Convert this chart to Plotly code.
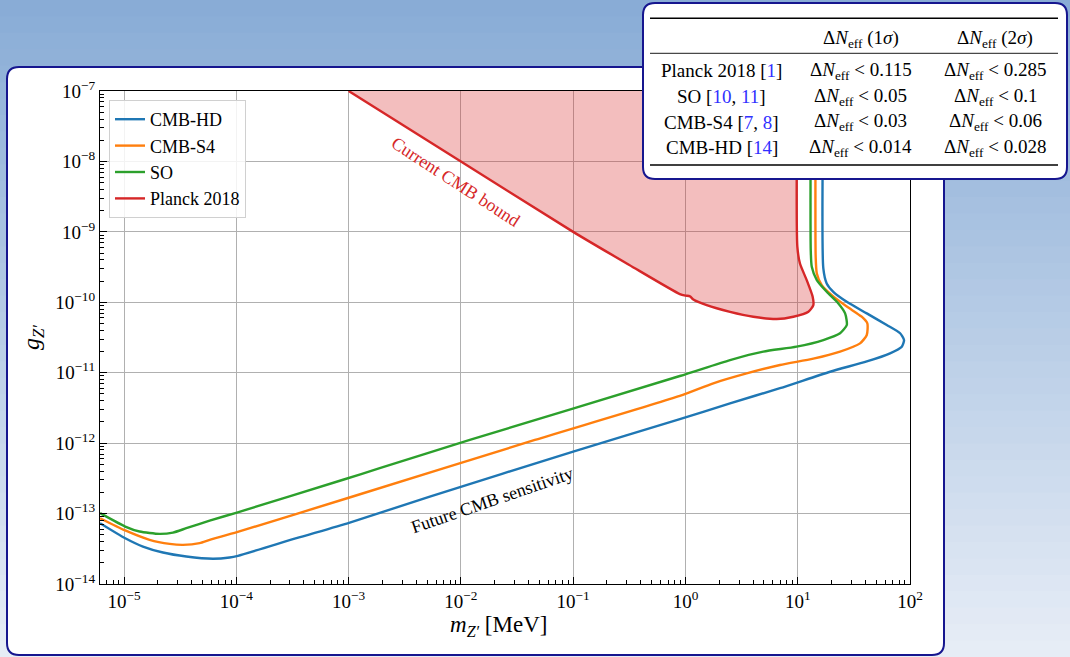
import numpy as np
import plotly.graph_objects as go

# ---------------- data (log10 values) ----------------
hd_log_m = [-5.214, -4.99, -4.832, -4.654, -4.446, -4.209, -4.06, -3.986, -3.465, -2.99, -2.277,
            -1.0, -0.05, 0.397, 0.842, 1.288, 1.615, 1.822, 1.927, 1.947, 1.912, 1.793, 1.615,
            1.437, 1.317, 1.258, 1.228, 1.228]
hd_log_g = [-13.136, -13.35, -13.468, -13.553, -13.61, -13.642, -13.624, -13.6, -13.35, -13.128, -12.759,
            -12.12, -11.66, -11.434, -11.22, -10.986, -10.84, -10.725, -10.63, -10.536, -10.44, -10.323, -10.158,
            -9.993, -9.851, -9.732, -9.52, -7.0]

s4_log_m = [-5.214, -4.99, -4.773, -4.594, -4.476, -4.327, -4.238, -3.995, -2.985, -1.341, -0.05,
            0.248, 0.545, 0.842, 1.139, 1.377, 1.555, 1.615, 1.62, 1.57, 1.437, 1.303, 1.214, 1.17,
            1.16, 1.16]
s4_log_g = [-13.066, -13.24, -13.373, -13.43, -13.444, -13.42, -13.373, -13.264, -12.768, -11.955, -11.33,
            -11.15, -11.01, -10.89, -10.8, -10.70, -10.583, -10.465, -10.30, -10.205, -10.06, -9.898, -9.756, -9.59,
            -9.355, -7.0]

so_log_m = [-5.214, -4.99, -4.862, -4.684, -4.565, -4.446, -4.238, -3.995, -3.05, -2.723, -1.921, -0.05,
            0.397, 0.693, 0.99, 1.228, 1.377, 1.437, 1.422, 1.362, 1.258, 1.17, 1.125, 1.116, 1.116]
so_log_g = [-12.994, -13.184, -13.255, -13.288, -13.27, -13.208, -13.1, -12.986, -12.52, -12.356, -11.955, -11.047,
            -10.82, -10.70, -10.63, -10.536, -10.44, -10.323, -10.158, -10.016, -9.851, -9.685, -9.496, -9.26, -7.0]

planck_log_m = [-3.0, -2.0, -1.0, -0.5, -0.05, 0.0, 0.04, 0.07, 0.189, 0.397, 0.604, 0.813, 0.961,
                1.095, 1.139, 1.133, 1.08, 1.02, 0.9965, 0.995]
planck_log_g = [-7.0, -8.0, -9.0, -9.47, -9.883, -9.905, -9.915, -9.96, -10.04, -10.135, -10.205, -10.238, -10.205,
                -10.135, -10.04, -9.92, -9.685, -9.45, -9.21, -7.0]

series_names = ["CMB-HD", "CMB-S4", "SO", "Planck 2018"]
series_colors = ["#1f77b4", "#ff7f0e", "#2ca02c", "#d62728"]

x_tick_exps = [-5, -4, -3, -2, -1, 0, 1, 2]
y_tick_exps = [-14, -13, -12, -11, -10, -9, -8, -7]

table_header = ["", "Δ<i>N</i><sub>eff</sub> (1<i>σ</i>)", "Δ<i>N</i><sub>eff</sub> (2<i>σ</i>)"]
table_rows = [
    ["Planck 2018 [<span style='color:#3030ff'>1</span>]", "0.115", "0.285"],
    ["SO [<span style='color:#3030ff'>10</span>, <span style='color:#3030ff'>11</span>]", "0.05", "0.1"],
    ["CMB-S4 [<span style='color:#3030ff'>7</span>, <span style='color:#3030ff'>8</span>]", "0.03", "0.06"],
    ["CMB-HD [<span style='color:#3030ff'>14</span>]", "0.014", "0.028"],
]

# ---------------- layout geometry ----------------
W, H = 1070, 657
L, R, T, B = 100, 160, 91, 73
PW, PH = W - L - R, H - T - B
FONT = "Liberation Serif"
NAVY = "#16168f"


def px(x):
    return (x - L) / PW


def py(y):
    return (H - B - y) / PH


def rounded_path(x0, y0, x1, y1, r):
    rx, ry = r / PW, r / PH
    X0, X1 = px(x0), px(x1)
    Y0, Y1 = py(y0), py(y1)  # Y0 top (larger), Y1 bottom
    return (f"M {X0+rx},{Y0} L {X1-rx},{Y0} Q {X1},{Y0} {X1},{Y0-ry} "
            f"L {X1},{Y1+ry} Q {X1},{Y1} {X1-rx},{Y1} "
            f"L {X0+rx},{Y1} Q {X0},{Y1} {X0},{Y1+ry} "
            f"L {X0},{Y0-ry} Q {X0},{Y0} {X0+rx},{Y0} Z")


fig = go.Figure()

# Planck fill
pm = 10 ** np.array(planck_log_m)
pg = 10 ** np.array(planck_log_g)
fig.add_trace(go.Scatter(x=pm, y=pg, mode="lines", fill="toself",
                         fillcolor="rgba(214,39,40,0.3)", line=dict(width=0, shape="spline", smoothing=0.6),
                         showlegend=False, hoverinfo="skip"))

curves = [(hd_log_m, hd_log_g), (s4_log_m, s4_log_g), (so_log_m, so_log_g), (planck_log_m, planck_log_g)]
for i, ((lm, lg), name, col) in enumerate(zip(curves, series_names, series_colors)):
    fig.add_trace(go.Scatter(x=10 ** np.array(lm), y=10 ** np.array(lg), mode="lines", name=name,
                             legendgroup=f"g{i}",
                             line=dict(color=col, width=2.4, shape="spline", smoothing=0.6)))

shapes = []
# background gradient bands
top_c = np.array([136, 172, 214])
bot_c = np.array([232, 238, 247])
NB = 40
for k in range(NB):
    y0 = H * k / NB
    y1 = H * (k + 1) / NB + 1
    c = top_c + (bot_c - top_c) * (k + 0.5) / NB
    shapes.append(dict(type="rect", xref="paper", yref="paper", x0=px(-2), x1=px(W + 2),
                       y0=py(y0), y1=py(min(y1, H + 2)), fillcolor=f"rgb({int(c[0])},{int(c[1])},{int(c[2])})",
                       line=dict(width=0), layer="below"))
# white panel
shapes.append(dict(type="path", xref="paper", yref="paper", path=rounded_path(7, 67, 944, 655, 12),
                   fillcolor="white", line=dict(color=NAVY, width=2), layer="below"))
# table box
shapes.append(dict(type="path", xref="paper", yref="paper", path=rounded_path(643, 3, 1067, 179, 12),
                   fillcolor="white", line=dict(color=NAVY, width=2), layer="above"))
for yy, wdt in [(18.3, 1.4), (53.3, 0.9), (165, 1.4)]:
    shapes.append(dict(type="line", xref="paper", yref="paper", x0=px(650), x1=px(1058),
                       y0=py(yy), y1=py(yy), line=dict(color="black", width=wdt), layer="above"))

annotations = []
col_x = [721.7, 860.7, 995.0]
for j, txt in enumerate(table_header):
    if txt:
        annotations.append(dict(xref="paper", yref="paper", x=px(col_x[j]), y=py(39), text=txt,
                                showarrow=False, xanchor="center", yanchor="middle",
                                font=dict(family=FONT, size=19, color="black")))
row_y = [71, 96.7, 122.3, 147.7]
for r_i, row in enumerate(table_rows):
    for j, txt in enumerate(row):
        t = txt if j == 0 else f"Δ<i>N</i><sub>eff</sub> &lt; {txt}"
        annotations.append(dict(xref="paper", yref="paper", x=px(col_x[j]), y=py(row_y[r_i]), text=t,
                                showarrow=False, xanchor="center", yanchor="middle",
                                font=dict(family=FONT, size=19, color="black")))

# in-plot labels
annotations.append(dict(x=-2.045, y=-8.295, xref="x", yref="y", text="Current CMB bound", showarrow=False,
                        textangle=33, font=dict(family=FONT, size=18, color="#d62728")))
annotations.append(dict(x=-1.72, y=-12.806, xref="x", yref="y", text="Future CMB sensitivity", showarrow=False,
                        textangle=-19, font=dict(family=FONT, size=18, color="black")))
# axis titles
annotations.append(dict(xref="paper", yref="paper", x=px(498), y=py(626), text="<i>m</i><sub><i>Z′</i></sub> [MeV]",
                        showarrow=False, xanchor="center", yanchor="middle",
                        font=dict(family=FONT, size=23, color="black")))
annotations.append(dict(xref="paper", yref="paper", x=px(33), y=py(338), text="<i>g</i><sub><i>Z′</i></sub>",
                        showarrow=False, xanchor="center", yanchor="middle", textangle=-90,
                        font=dict(family=FONT, size=24, color="black")))


def sup_label(e):
    return "10<sup>" + (str(e).replace("-", "−")) + "</sup>"


x_minor = [np.log10(d * 10.0 ** e) for e in range(-6, 2) for d in range(2, 10)]
x_minor = [10 ** v for v in x_minor if -5.2147 < v < 2]
y_minor = [d * 10.0 ** e for e in range(-14, -7) for d in range(2, 10)]

axis_common = dict(showline=True, linecolor="black", linewidth=1.3, mirror=True, ticks="inside", ticklen=7,
                   tickwidth=1.1, tickcolor="black", showgrid=True, gridcolor="#b0b0b0", gridwidth=1,
                   zeroline=False, tickfont=dict(family=FONT, size=19, color="black"))

fig.update_xaxes(type="log", range=[np.log10(6.1e-6), 2.0],
                 tickvals=[10.0 ** e for e in x_tick_exps], ticktext=[sup_label(e) for e in x_tick_exps],
                 minor=dict(tickvals=x_minor, ticks="inside", ticklen=3.5, tickcolor="black", tickwidth=1,
                            showgrid=False),
                 **axis_common)
fig.update_yaxes(type="log", range=[-14, -7],
                 tickvals=[10.0 ** e for e in y_tick_exps], ticktext=[sup_label(e) for e in y_tick_exps],
                 minor=dict(tickvals=y_minor, ticks="inside", ticklen=3.5, tickcolor="black", tickwidth=1,
                            showgrid=False),
                 **axis_common)

fig.update_layout(
    width=W, height=H, autosize=False,
    margin=dict(l=L, r=R, t=T, b=B, pad=0),
    paper_bgcolor="rgb(180,200,230)", plot_bgcolor="white",
    shapes=shapes, annotations=annotations,
    showlegend=True,
    legend=dict(x=px(109), y=py(100), xanchor="left", yanchor="top",
                bgcolor="rgba(255,255,255,0.85)", bordercolor="#d0d0d0", borderwidth=1,
                font=dict(family=FONT, size=18, color="black"), tracegroupgap=2,
                traceorder="normal"),
    hovermode=False,
)

fig.write_html("out.html", config={"displayModeBar": False},
               post_script="document.body.style.margin='0';document.body.style.overflow='hidden';")
